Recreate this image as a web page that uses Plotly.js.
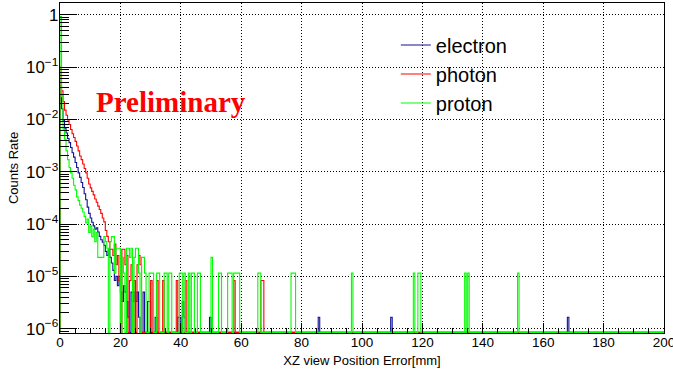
<!DOCTYPE html>
<html><head><meta charset="utf-8">
<script src="https://cdn.plot.ly/plotly-3.0.1.min.js"></script>
<style>html,body{margin:0;padding:0;background:#fff;}#chart{width:673px;height:369px;}</style>
</head><body><div id="chart"></div>
<script>
// Histogram: 0.5 mm bins from 0 to 200 mm; only non-empty bins listed (lower edge, rate)
const binWidth = 0.5;
const xMax = 200;

const electronBins = [0,0.5,1,1.5,2,2.5,3,3.5,4,4.5,5,5.5,6,6.5,7,7.5,8,8.5,9,9.5,10,10.5,11,11.5,12,12.5,13,13.5,14,14.5,15,15.5,16,16.5,17,17.5,18,18.5,19,19.5,20,20.5,21,21.5,22,22.5,
  23.5,24,24.5,25,25.5,26,27.5,29,29.5,31.5,39,39.5,40.5,41,49.5,85.5,109.5,168];
const electronRates = [0.045,0.016,0.0095,0.0068,0.0055,0.0043,0.0036,0.0029,0.0023,0.0019,0.0015,0.0012,0.00095,0.00078,0.00062,0.0005,0.00038,0.00029,0.00021,0.00016,0.00013,0.000108,9.2e-5,8e-5,8.5e-5,7e-5,5.8e-5,5e-5,4.5e-5,3.9e-5,3e-5,2.5e-5,3.3e-5,2.3e-5,1.8e-5,1.3e-5,8.3e-6,1e-5,6.6e-6,1e-5,5e-6,3.3e-6,6.6e-6,5e-6,3.3e-6,1.65e-6,
  5e-6,3.3e-6,5e-6,3.3e-6,5e-6,1.65e-6,5e-6,3.3e-6,3.3e-6,1.65e-6,1.65e-6,1.65e-6,3.3e-6,1.65e-6,1.65e-6,1.65e-6,1.65e-6,1.65e-6];

const photonBins = [0,0.5,1,1.5,2,2.5,3,3.5,4,4.5,5,5.5,6,6.5,7,7.5,8,8.5,9,9.5,10,10.5,11,11.5,12,12.5,13,13.5,14,14.5,15,15.5,16,16.5,17,17.5,18,18.5,19,19.5,
  20.5,21,21.5,22,23,23.5,24.5,25.5,26,26.5,30,32,34,38.5,41.5,57.5,66.5,67];
const photonRates = [0.1,0.035,0.022,0.015,0.012,0.0098,0.008,0.0064,0.0053,0.0045,0.0038,0.0031,0.0025,0.002,0.0017,0.0014,0.00115,0.00095,0.00075,0.00058,0.00049,0.00042,0.00036,0.0003,0.00026,0.00022,0.00019,0.00016,0.00013,0.00011,7.5e-5,5.8e-5,4.6e-5,3.3e-5,3.3e-5,2.5e-5,4.15e-5,1.66e-5,2.5e-5,8.3e-6,
  3.3e-5,3.3e-5,1.66e-5,2.5e-5,8.3e-6,1.66e-5,8.3e-6,1.66e-5,2.5e-5,1.66e-5,8.3e-6,8.3e-6,8.3e-6,8.3e-6,8.3e-6,8.3e-6,8.3e-6,8.3e-6];

const protonBins = [0,0.5,1,1.5,2,2.5,3,3.5,4,4.5,5,5.5,6,6.5,7,7.5,8,8.5,9,9.5,10,10.5,11,11.5,12,12.5,13,13.5,14,14.5,15,15.5,
  16.5,17,17.5,18,18.5,19,19.5,20.5,21,22,22.5,23,23.5,24.5,25,25.5,26,27,27.5,28,29.5,30,30.5,32,32.5,34.5,35,36,36.5,39.5,40,41,42.5,43.5,44,45.5,46,50,52.5,53,55.5,56,56.5,57.5,58,58.5,59,65.5,66,76.5,77,77.5,96.5,117,118.5,119,134,135,151.5];
const protonRates = [0.92,0.027,0.0065,0.0042,0.0025,0.0017,0.0012,0.00095,0.00075,0.00055,0.00045,0.00033,0.00028,0.00023,0.0002,0.00017,0.00014,0.000105,0.000125,6.9e-5,9.2e-5,5.75e-5,8e-5,4.6e-5,6.9e-5,2.3e-5,2.3e-5,2.3e-5,2.3e-5,5.75e-5,4.6e-5,3.45e-5,
  4.6e-5,5.75e-5,5.75e-5,1.15e-5,3.45e-5,3.45e-5,3.45e-5,2.3e-5,1.15e-5,3.45e-5,3.45e-5,2.3e-5,3.45e-5,2.3e-5,3.45e-5,3.45e-5,1.15e-5,2.3e-5,2.3e-5,1.15e-5,1.15e-5,1.15e-5,1.15e-5,1.15e-5,1.15e-5,1.15e-5,1.15e-5,1.15e-5,1.15e-5,1.15e-5,1.15e-5,1.15e-5,1.15e-5,1.15e-5,1.15e-5,1.15e-5,1.15e-5,2.3e-5,1.15e-5,1.15e-5,1.15e-5,1.15e-5,1.15e-5,1.15e-5,1.15e-5,1.15e-5,1.15e-5,1.15e-5,1.15e-5,1.15e-5,1.15e-5,1.15e-5,1.15e-5,1.15e-5,1.15e-5,1.15e-5,1.15e-5,1.15e-5,1.15e-5];

const yLogRange = [-6.083, 0.224];
const floorVal = Math.pow(10, yLogRange[0] + 0.012); // empty bins drawn on the frame bottom, as ROOT does

function histTrace(name, bins, rates, color) {
  const n = Math.round(xMax / binWidth);
  const vals = new Array(n).fill(0);
  bins.forEach((b, i) => { vals[Math.round(b / binWidth)] = rates[i]; });
  const x = [0], y = [floorVal];
  for (let i = 0; i < n; i++) { x.push(i * binWidth); y.push(vals[i] > 0 ? vals[i] : floorVal); }
  x.push(xMax); y.push(vals[n - 1] > 0 ? vals[n - 1] : floorVal);
  return {type:'scatter', mode:'lines', name, x, y, line:{shape:'hv', color, width:1.1}, hoverinfo:'skip'};
}

const data = [
  histTrace('electron', electronBins, electronRates, '#10109a'),
  histTrace('photon', photonBins, photonRates, '#ff0000'),
  histTrace('proton', protonBins, protonRates, '#00ff00')
];

const gridDash = '1px,2px';
const layout = {
  width:673, height:369,
  margin:{l:60, r:9, t:3, b:36},
  paper_bgcolor:'#fff', plot_bgcolor:'#fff',
  font:{family:'Liberation Sans, Arial, sans-serif', color:'#000', size:13},
  showlegend:true,
  legend:{x:0.556, y:0.932, xanchor:'left', yanchor:'top', bgcolor:'rgba(0,0,0,0)', font:{size:20}, tracegroupgap:0},
  xaxis:{range:[0,xMax], tick0:0, dtick:20, ticks:'inside', ticklen:10, tickcolor:'#000',
    showline:true, mirror:true, linecolor:'#000', linewidth:1,
    showgrid:true, gridcolor:'#000', griddash:gridDash, gridwidth:1, zeroline:false,
    minor:{ticks:'inside', ticklen:5, dtick:5, tick0:0, tickcolor:'#000', showgrid:false},
    tickfont:{size:13.5}, ticklabeloverflow:'allow', ticklabelstandoff:-3,
    title:{text:'XZ view Position Error[mm]', font:{size:13}, standoff:6}},
  yaxis:{type:'log', range:yLogRange, dtick:1, exponentformat:'power', ticks:'inside', ticklen:17, tickcolor:'#000',
    showline:true, mirror:true, linecolor:'#000', linewidth:1,
    showgrid:true, gridcolor:'#000', griddash:gridDash, gridwidth:1, zeroline:false,
    minor:{ticks:'inside', ticklen:9, dtick:'D1', tickcolor:'#000', showgrid:false},
    tickfont:{size:13.5}, ticklabelstandoff:-2,
    title:{text:'Counts Rate', font:{size:13}, standoff:4}},
  annotations:[{text:'<b>Preliminary</b>', xref:'paper', yref:'paper', x:0.184, y:0.7, xanchor:'center', yanchor:'middle',
    showarrow:false, font:{family:'Liberation Serif, Times New Roman, serif', size:29, color:'#ff0000'}}]
};

Plotly.newPlot('chart', data, layout, {staticPlot:true, displayModeBar:false});
</script>
</body></html>
